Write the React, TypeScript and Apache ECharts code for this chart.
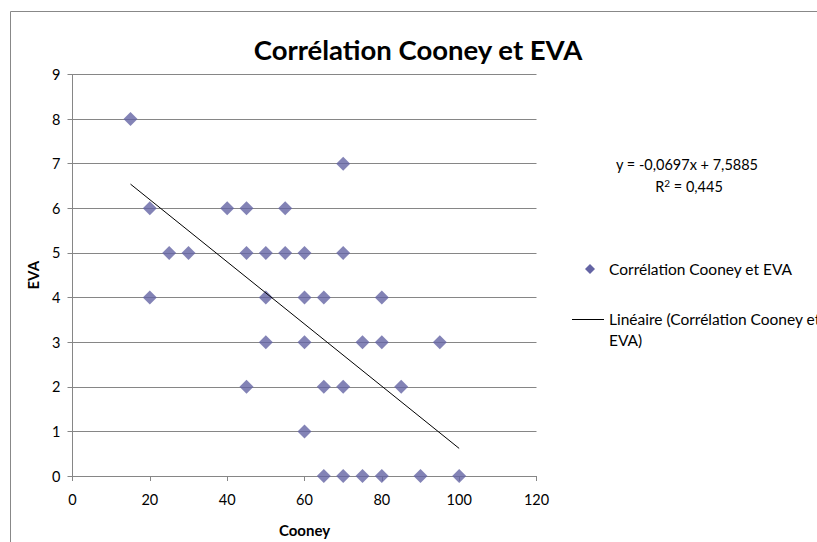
import React, { useEffect, useRef } from "react";
import * as echarts from "echarts";

const TITLE = "Corrélation Cooney et EVA";
const SERIES_NAME = "Corrélation Cooney et EVA";
const TREND_NAME = "Linéaire (Corrélation Cooney et EVA)";
const X_NAME = "Cooney";
const Y_NAME = "EVA";

const cooney = [15, 20, 20, 25, 30, 40, 45, 55, 45, 50, 55, 60, 70, 70, 50, 60, 65, 80, 50, 60, 75, 80, 95, 45, 65, 70, 85, 60, 65, 70, 75, 80, 90, 100];
const eva = [8, 6, 4, 5, 5, 6, 6, 6, 5, 5, 5, 5, 5, 7, 4, 4, 4, 4, 3, 3, 3, 3, 3, 2, 2, 2, 2, 1, 0, 0, 0, 0, 0, 0];

const slope = -0.0697;
const intercept = 7.5885;
const r2 = 0.445;

const xTicks = { min: 0, max: 120, interval: 20 };
const yTicks = { min: 0, max: 9, interval: 1 };

const FONT = "Lato, 'Noto Sans', sans-serif";
const fmt = (v: number, d: number) => v.toFixed(d).replace(".", ",");

export default function App() {
  const ref = useRef<HTMLDivElement>(null);
  useEffect(() => {
    document.body.style.margin = "0";
    const chart = echarts.init(ref.current!, undefined, { renderer: "svg" });
    const points = cooney.map((x, i) => [x, eva[i]]);
    const xMin = Math.min(...cooney);
    const xMax = Math.max(...cooney);
    const trend = [xMin, xMax].map((x) => [x, slope * x + intercept]);
    const eq = `y = ${slope < 0 ? "-" : ""}${fmt(Math.abs(slope), 4)}x + ${fmt(intercept, 4)}`;
    const axisColor = "#868686";
    chart.setOption({
      animation: false,
      backgroundColor: "#ffffff",
      textStyle: { fontFamily: FONT },
      title: {
        text: TITLE,
        left: 413,
        top: 30,
        textAlign: "center",
        textStyle: { fontFamily: FONT, fontSize: 27.5, fontWeight: "bold", color: "#000" },
      },
      grid: { left: 72.5, top: 74.5, right: 280.5, bottom: 65.5, containLabel: false },
      xAxis: {
        type: "value",
        min: xTicks.min,
        max: xTicks.max,
        interval: xTicks.interval,
        name: X_NAME,
        nameLocation: "middle",
        nameGap: 46,
        nameTextStyle: { fontFamily: FONT, fontSize: 15, fontWeight: "bold", color: "#000" },
        axisLine: { show: true, lineStyle: { color: axisColor, width: 1 } },
        axisTick: { show: true, inside: false, length: 5, lineStyle: { color: axisColor } },
        axisLabel: { color: "#000", fontSize: 14.5, fontFamily: FONT, margin: 16 },
        splitLine: { show: false },
      },
      yAxis: {
        type: "value",
        min: yTicks.min,
        max: yTicks.max,
        interval: yTicks.interval,
        name: Y_NAME,
        nameLocation: "middle",
        nameGap: 32,
        nameTextStyle: { fontFamily: FONT, fontSize: 15, fontWeight: "bold", color: "#000" },
        axisLine: { show: true, lineStyle: { color: axisColor, width: 1 } },
        axisTick: { show: true, inside: false, length: 5, lineStyle: { color: axisColor } },
        axisLabel: { color: "#000", fontSize: 14.5, fontFamily: FONT, margin: 12 },
        splitLine: { show: true, lineStyle: { color: axisColor, width: 1 } },
      },
      series: [
        {
          name: SERIES_NAME,
          type: "scatter",
          symbol: "diamond",
          symbolSize: 14,
          itemStyle: { color: "#6464A4" },
          data: points,
          z: 3,
        },
        {
          name: TREND_NAME,
          type: "line",
          showSymbol: false,
          symbol: "none",
          lineStyle: { color: "#000", width: 1 },
          data: trend,
          z: 4,
        },
      ],
      graphic: [
        {
          type: "rect",
          shape: { x: 10.5, y: 11.5, width: 900, height: 700 },
          style: { fill: "none", stroke: "#888888", lineWidth: 1 },
          silent: true,
          z: -1,
        },
        {
          type: "text",
          x: 687,
          y: 164,
          style: { text: eq, font: `14.5px ${FONT}`, fill: "#000", align: "center", verticalAlign: "middle" },
        },
        {
          type: "text",
          x: 689,
          y: 186,
          style: {
            text: `R{sup|2} = ${fmt(r2, 3)}`,
            font: `14.5px ${FONT}`,
            fill: "#000",
            align: "center",
            verticalAlign: "middle",
            rich: { sup: { fontSize: 10, verticalAlign: "top", padding: [0, 0, 6, 0], fontFamily: FONT } },
          },
        },
        {
          type: "polygon",
          shape: { points: [[590, 264], [595, 269], [590, 274], [585, 269]] },
          style: { fill: "#6464A4" },
        },
        {
          type: "text",
          x: 609,
          y: 269,
          style: { text: SERIES_NAME, font: `15.5px ${FONT}`, fill: "#000", verticalAlign: "middle" },
        },
        {
          type: "line",
          shape: { x1: 572, y1: 319.5, x2: 604, y2: 319.5 },
          style: { stroke: "#000", lineWidth: 1 },
        },
        {
          type: "text",
          x: 609,
          y: 319,
          style: { text: "Linéaire (Corrélation Cooney et", font: `15.5px ${FONT}`, fill: "#000", verticalAlign: "middle" },
        },
        {
          type: "text",
          x: 609,
          y: 340,
          style: { text: "EVA)", font: `15.5px ${FONT}`, fill: "#000", verticalAlign: "middle" },
        },
      ],
    });
    return () => chart.dispose();
  }, []);
  return <div ref={ref} style={{ width: 817, height: 542 }} />;
}
